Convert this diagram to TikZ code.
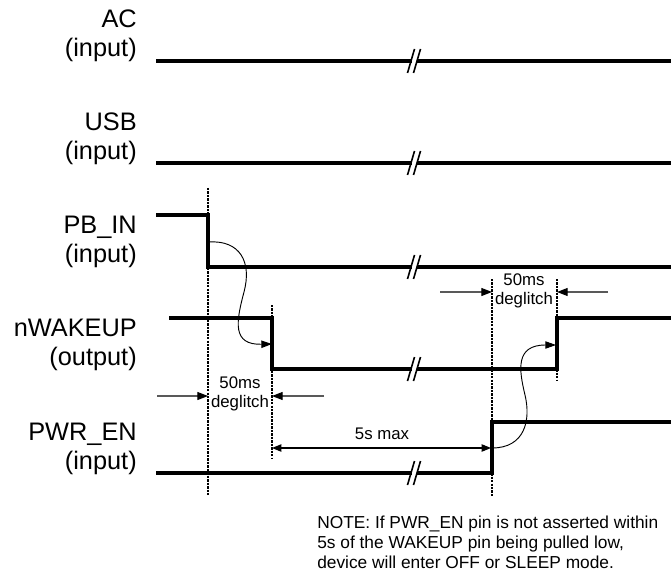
\documentclass[tikz,border=0pt]{standalone}
\usepackage{fontspec}
\setmainfont{Liberation Sans}
\usetikzlibrary{arrows.meta, positioning}

\begin{document}
\begin{tikzpicture}[
    x=0.75pt, y=-0.75pt,
    siglbl/.style={anchor=east, align=right, inner sep=0pt,
                   font=\fontsize{19}{21.4}\selectfont},
    small/.style={align=center, inner sep=0pt,
                  font=\fontsize{12.6}{14.25}\selectfont},
    note/.style={anchor=north west, align=left, inner sep=0pt,
                 font=\fontsize{13}{15}\selectfont},
    wave/.style={line width=2.3pt, line join=miter},
    marker/.style={line width=1.8pt, dash pattern=on 1.8pt off 0.8pt},
    tip/.style={-{Triangle[length=8pt, width=6pt, color=black]}},
    deg/.style={tip, line width=0.8pt, black!65},
    cause/.style={-{Triangle[length=8pt, width=5.5pt]}, line width=0.7pt},
    span/.style={{Triangle[length=7pt, width=5.5pt]}-{Triangle[length=7pt, width=5.5pt]},
                 line width=0.8pt}
]
\useasboundingbox (0,0) rectangle (671,574);

% Labels
\node[siglbl] (ac)   at (137, 35.75)  {AC\\(input)};
\node[siglbl] (usb)  at (137, 138.75) {USB\\(input)};
\node[siglbl] (pb)   at (137, 241.75) {PB\_IN\\(input)};
\node[siglbl] (wake) at (137, 344.75) {nWAKEUP\\(output)};
\node[siglbl] (pwr)  at (137, 448.75) {PWR\_EN\\(input)};

% Edges
\coordinate (pbfall)  at (208, 215);
\coordinate (wkfall)  at (272, 318);
\coordinate (pwrrise) at (492, 422);
\coordinate (wkrise)  at (557, 318);

% Markers
\draw[marker] (208, 188) -- (208, 496);
\draw[marker] (272, 305) -- (272, 458);
\draw[marker] (492, 279) -- (492, 496);
\draw[marker] (557, 279) -- (557, 380);

% Signals
\draw[wave] (156, 61)  -- (671, 61);
\draw[wave] (156, 163) -- (671, 163);
\draw[wave] (156, 215) -- (pbfall) -- (208, 267) -- (671, 267);
\draw[wave] (169, 318) -- (wkfall) -- (272, 369) -- (557, 369) -- (wkrise) -- (671, 318);
\draw[wave] (156, 473) -- (492, 473) -- (pwrrise) -- (671, 422);

% Breaks
\foreach \y in {61, 163, 267, 369, 473} {
  \draw[white, line width=3pt] (411.5, \y) -- (416.5, \y);
  \draw[line width=1.2pt] (407.5, \y+12) -- (414.5, \y-12);
  \draw[line width=1.2pt] (413.5, \y+12) -- (420.5, \y-12);
}

% Cause and effect
\draw[cause] (209, 242) .. controls (240, 240) and (252, 262) .. (244, 292)
             .. controls (236, 322) and (232, 345) .. (272, 344);
\draw[cause] (492, 448) .. controls (525, 448) and (531, 420) .. (525, 395)
             .. controls (519, 370) and (515, 345) .. (556, 345);

% Timings
\coordinate (d1l) at (157, 396);
\coordinate (d1r) at (324, 396);
\draw[deg] (d1l) -- (208, 396);
\draw[deg] (d1r) -- (272, 396);
\node[small] (deg1) at (240, 394) {50ms\\deglitch};

\coordinate (d2l) at (440, 292);
\coordinate (d2r) at (608, 292);
\draw[deg] (d2l) -- (492, 292);
\draw[deg] (d2r) -- (557, 292);
\node[small] (deg2) at (524, 291) {50ms\\deglitch};

\draw[span] (272, 448) -- (491, 448);
\node[small] (max) at (382, 434) {5s max};

% Note
\node[note] (nt) at (317, 516) {NOTE: If PWR\_EN pin is not asserted within\\
  5s of the WAKEUP pin being pulled low,\\
  device will enter OFF or SLEEP mode.};

\end{tikzpicture}
\end{document}
